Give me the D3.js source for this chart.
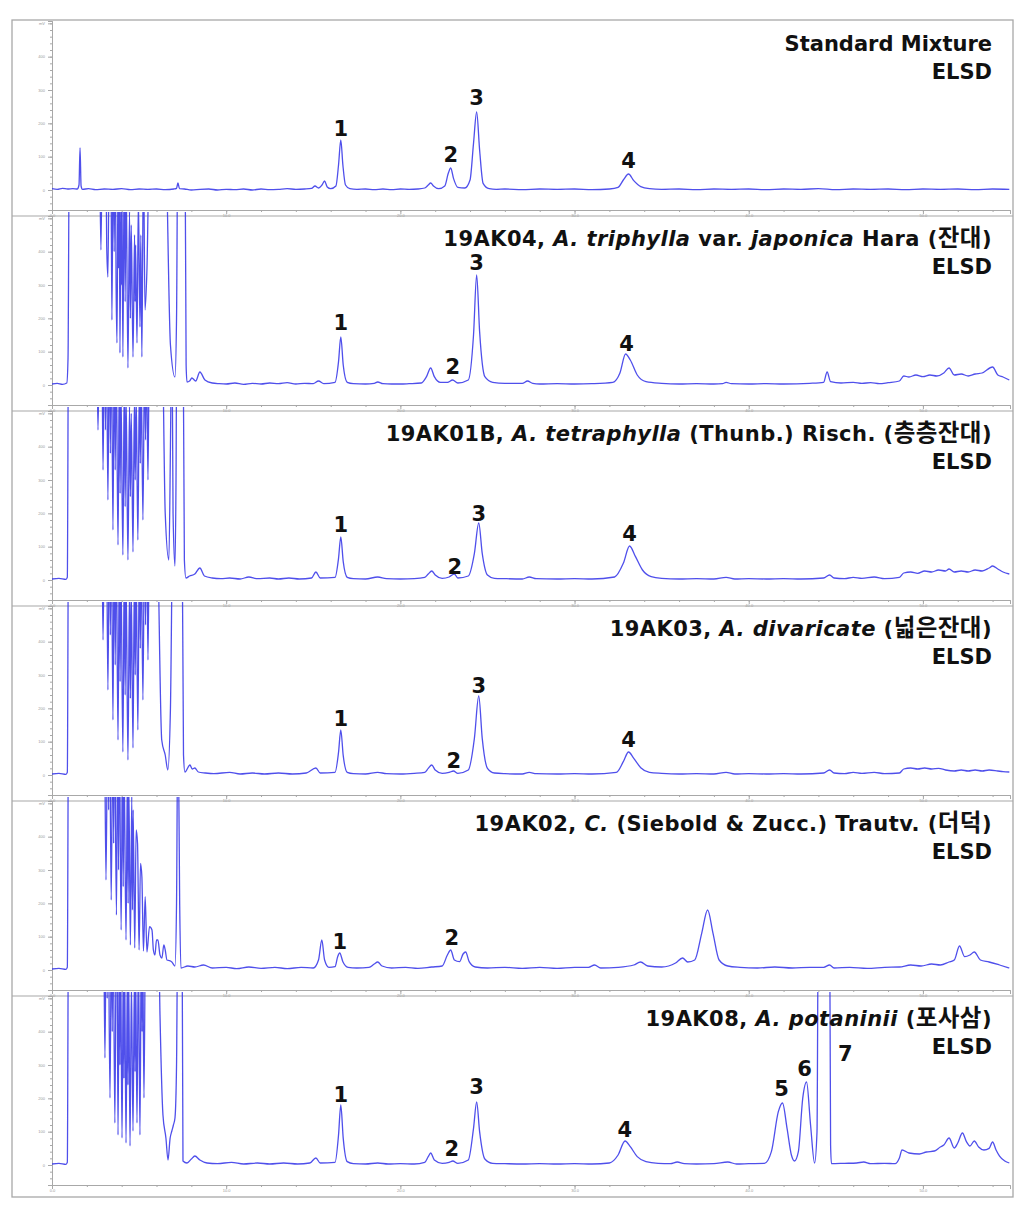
<!DOCTYPE html>
<html><head><meta charset="utf-8">
<script src="https://cdn.jsdelivr.net/npm/d3@7"></script>
<style>body{margin:0;background:#fff}</style>
</head><body>
<svg id="chart" width="1027" height="1209"></svg>
<script>
// ---------------- data ----------------
const timeMajorTicks = [0, 10, 20, 30, 40, 50];
const timeTickLabels = ["0.0", "10.0", "20.0", "30.0", "40.0", "50.0"];
const timeMinorTicks = [0,2,4,6,8,10,12,14,16,18,20,22,24,26,28,30,32,34,36,38,40,42,44,46,48,50,52,54];
const signalMajorTicks = [0, 100, 200, 300, 400, 500];
const signalTickLabels = ["0", "100", "200", "300", "400", "mV"];
const signalMinorTicks = [-40,-20,0,20,40,60,80,100,120,140,160,180,200,220,240,260,280,300,320,340,360,380,400,420,440,460,480,500];

// segment style: 0 = roman, 1 = italic, 2 = Korean
const titleLines = [
  [["Standard Mixture", 0]],
  [["19AK04, ", 0], ["A. triphylla", 1], [" var. ", 0], ["japonica", 1], [" Hara (", 0], ["잔대", 2], [")", 0]],
  [["19AK01B, ", 0], ["A. tetraphylla", 1], [" (Thunb.) Risch. (", 0], ["층층잔대", 2], [")", 0]],
  [["19AK03, ", 0], ["A. divaricate", 1], [" (", 0], ["넓은잔대", 2], [")", 0]],
  [["19AK02, ", 0], ["C.", 1], [" (Siebold & Zucc.) Trautv. (", 0], ["더덕", 2], [")", 0]],
  [["19AK08, ", 0], ["A. potaninii", 1], [" (", 0], ["포사삼", 2], [")", 0]]
];
const detectorLabel = "ELSD";

// [time (min), signal]
const traceStandard = [[0,4],[0.3,2],[0.6,5],[0.9,3],[1.2,4],[1.45,3],[1.55,15],[1.61,126],[1.67,12],[1.75,2],[2.1,4],[2.5,1],[3.0,3],[3.5,2],[4.0,4],[4.5,1],[5.0,3],[5.5,2],[6.0,3],[6.5,1],[7.0,3],[7.15,5],[7.23,21],[7.32,4],[7.6,3],[8.0,0],[8.5,2],[9,3],[9.5,0],[10,2],[10.5,1],[11,3],[11.5,0],[12,3],[12.5,1],[13,2],[13.5,4],[14,2],[14.5,3],[14.9,5],[15.1,12],[15.3,6],[15.5,15],[15.65,27],[15.8,9],[16.0,4],[16.3,12],[16.45,75],[16.58,150],[16.7,75],[16.85,15],[17.1,4],[17.5,2],[18,3],[18.5,1],[19,3],[19.5,1],[20,3],[20.5,2],[21,3],[21.4,6],[21.6,15],[21.74,21],[21.9,12],[22.2,4],[22.55,12],[22.75,50],[22.89,66],[23.05,35],[23.3,8],[23.7,6],[24.0,30],[24.2,140],[24.38,234],[24.55,120],[24.75,20],[25.1,4],[25.5,2],[26,3],[27,1],[28,3],[29,2],[30,3],[31,1],[32,3],[32.5,8],[32.8,30],[33.1,48],[33.4,28],[33.8,10],[34.3,4],[35,2],[36,3],[37,1],[38,3],[39,2],[40,3],[41,1],[42,3],[43,2],[44,4],[45,1],[46,3],[47,2],[48,3],[49,1],[50,3],[51,2],[52,3],[53,1],[54,3],[54.96,2]];

const trace19AK04 = [[0,3],[0.3,5],[0.6,2],[0.85,6],[0.92,80],[1.0,800],[2.70,800],[2.81,405],[2.90,800],[2.95,560],[3.0,800],[3.08,800],[3.14,420],[3.21,324],[3.30,800],[3.33,520],[3.37,800],[3.44,195],[3.52,800],[3.57,400],[3.62,800],[3.68,300],[3.73,126],[3.80,700],[3.83,350],[3.86,700],[3.90,96],[3.97,620],[3.99,300],[4.01,620],[4.07,84],[4.15,700],[4.2,250],[4.25,650],[4.36,51],[4.45,520],[4.5,200],[4.55,480],[4.65,84],[4.74,450],[4.77,250],[4.80,420],[4.88,126],[4.96,560],[5.05,174],[5.10,450],[5.16,84],[5.25,700],[5.34,225],[5.45,345],[5.62,800],[6.48,800],[6.8,120],[7.06,24],[7.15,200],[7.23,800],[7.63,800],[7.70,60],[7.75,9],[7.9,12],[8.03,21],[8.25,12],[8.49,39],[8.78,15],[9.2,6],[9.6,4],[10,3],[10.5,6],[11.0,2],[11.5,5],[12.0,3],[12.5,6],[13.0,4],[13.5,7],[14.0,3],[14.5,5],[15.0,4],[15.3,12],[15.6,4],[16.25,8],[16.45,70],[16.58,144],[16.72,60],[16.95,8],[17.3,4],[18,3],[18.5,5],[18.7,9],[19,4],[19.5,3],[20,3],[20.5,4],[21.2,6],[21.5,25],[21.74,51],[21.95,25],[22.3,8],[22.7,8],[23.0,15],[23.3,6],[23.9,15],[24.2,150],[24.38,330],[24.55,160],[24.85,25],[25.3,8],[26,5],[27.0,5],[27.3,12],[27.6,5],[28,3],[29,4],[30,3],[31,4],[32.2,8],[32.6,35],[32.93,93],[33.2,75],[33.6,30],[34.1,10],[35,5],[36,3],[37,4],[38,3],[38.5,4],[38.7,8],[39,4],[40,3],[41,4],[42,3],[43.5,5],[44.3,8],[44.5,39],[44.7,10],[45.3,6],[46,8],[46.5,5],[47,7],[47.5,4],[48,7],[48.65,12],[48.9,27],[49.2,24],[49.6,30],[50,25],[50.4,30],[50.8,27],[51.2,36],[51.5,51],[51.8,30],[52.2,33],[52.6,27],[53.0,33],[53.4,36],[54.0,54],[54.3,30],[54.6,24],[54.96,15]];

const trace19AK01B = [[0,3],[0.4,5],[0.8,2],[0.88,8],[0.95,800],[2.55,800],[2.64,450],[2.75,800],[2.80,520],[2.85,800],[2.93,330],[3.02,800],[3.07,450],[3.12,800],[3.21,240],[3.30,800],[3.35,380],[3.40,800],[3.50,150],[3.58,750],[3.63,330],[3.68,700],[3.79,105],[3.87,650],[3.91,260],[3.95,600],[4.07,75],[4.15,600],[4.2,220],[4.25,560],[4.36,60],[4.45,520],[4.5,250],[4.55,500],[4.65,84],[4.73,540],[4.78,300],[4.83,560],[4.93,120],[5.02,600],[5.07,350],[5.12,620],[5.22,180],[5.32,700],[5.37,420],[5.42,700],[5.51,300],[5.60,800],[6.30,800],[6.50,200],[6.71,60],[6.80,400],[6.88,800],[6.95,200],[7.06,42],[7.12,300],[7.17,800],[7.52,800],[7.60,60],[7.69,6],[7.9,12],[8.2,18],[8.49,36],[8.75,12],[9.2,6],[9.7,4],[10.2,6],[10.8,3],[11.3,9],[11.8,4],[12.5,6],[13.0,3],[13.6,6],[14.2,3],[14.9,6],[15.15,24],[15.4,6],[16.25,8],[16.45,65],[16.58,129],[16.72,55],[16.95,8],[17.3,4],[18,3],[18.7,9],[19.2,4],[20,3],[20.8,4],[21.4,8],[21.6,18],[21.8,27],[22.0,15],[22.4,5],[22.8,9],[23.1,18],[23.3,6],[23.9,12],[24.25,80],[24.5,171],[24.7,80],[25.0,15],[25.4,5],[26,4],[27,3],[27.4,9],[27.8,4],[29,3],[30,4],[31,3],[32.3,9],[32.8,50],[33.16,102],[33.5,70],[33.9,30],[34.4,10],[35,5],[36,3],[37,4],[38,3],[38.7,8],[39.2,3],[40,4],[41,3],[42,4],[43,3],[44.3,6],[44.64,15],[44.9,6],[45.5,4],[46,8],[46.5,5],[47.2,9],[47.8,4],[48.65,8],[48.9,21],[49.3,24],[49.7,20],[50.1,27],[50.5,24],[50.9,30],[51.3,27],[51.5,33],[51.8,24],[52.2,27],[52.6,24],[53.0,30],[53.4,27],[53.8,36],[54.0,42],[54.3,33],[54.6,24],[54.96,18]];

const trace19AK03 = [[0,3],[0.4,5],[0.8,2],[0.88,8],[0.95,800],[2.85,800],[2.93,405],[3.02,800],[3.07,520],[3.12,800],[3.21,255],[3.30,800],[3.35,420],[3.40,800],[3.50,165],[3.58,800],[3.63,330],[3.68,750],[3.79,105],[3.87,700],[3.91,280],[3.95,650],[4.07,69],[4.15,640],[4.2,240],[4.25,600],[4.36,45],[4.45,560],[4.5,230],[4.55,560],[4.65,81],[4.73,600],[4.78,300],[4.83,620],[4.93,135],[5.02,700],[5.07,380],[5.12,700],[5.22,225],[5.32,800],[5.37,450],[5.42,800],[5.51,345],[5.60,800],[6.0,800],[6.3,105],[6.5,60],[6.65,15],[6.8,200],[6.95,800],[7.46,800],[7.55,60],[7.63,9],[7.92,30],[8.05,18],[8.2,21],[8.4,9],[8.8,6],[9.3,4],[10.2,8],[10.8,3],[11.5,6],[12.2,3],[13.0,6],[13.8,3],[14.6,6],[15.15,21],[15.4,6],[16.25,8],[16.45,68],[16.58,135],[16.72,58],[16.95,8],[17.3,4],[18,3],[18.7,8],[19.2,4],[20,3],[20.8,5],[21.4,8],[21.6,20],[21.8,30],[22.0,15],[22.4,5],[22.8,8],[23.05,12],[23.3,5],[23.9,15],[24.25,110],[24.5,237],[24.7,110],[25.0,20],[25.4,6],[26,4],[27,3],[27.4,8],[27.8,4],[29,3],[30,4],[31,3],[32.4,8],[32.8,40],[33.1,69],[33.4,50],[33.8,22],[34.3,8],[35,5],[36,3],[37,4],[38,3],[38.7,8],[39.2,3],[40,4],[41,3],[42,4],[43,3],[44.3,6],[44.64,15],[44.9,6],[45.5,4],[46,8],[46.5,5],[47.2,8],[47.8,4],[48.65,6],[48.9,18],[49.3,21],[49.7,18],[50.1,21],[50.5,18],[50.9,20],[51.3,15],[51.8,12],[52.2,15],[52.6,12],[53.0,15],[53.4,12],[53.8,15],[54.3,12],[54.6,10],[54.96,9]];

const trace19AK02 = [[0,3],[0.4,5],[0.8,2],[0.88,8],[0.95,800],[3.00,800],[3.10,270],[3.20,800],[3.25,480],[3.30,800],[3.40,210],[3.50,800],[3.54,380],[3.58,800],[3.70,165],[3.78,800],[3.82,300],[3.86,750],[3.97,120],[4.05,700],[4.09,250],[4.13,650],[4.25,90],[4.33,600],[4.37,200],[4.41,560],[4.50,75],[4.58,520],[4.62,180],[4.66,480],[4.75,66],[4.83,420],[4.91,380],[5.00,60],[5.08,320],[5.16,280],[5.25,57],[5.35,220],[5.45,54],[5.6,130],[5.74,120],[5.82,60],[5.91,45],[6.0,90],[6.08,90],[6.2,45],[6.31,36],[6.42,75],[6.5,60],[6.6,30],[6.75,28],[6.88,24],[7.06,12],[7.15,200],[7.23,800],[7.33,200],[7.40,6],[7.8,12],[8.2,9],[8.7,15],[9.2,6],[10,8],[10.6,4],[11.3,9],[12,5],[12.8,8],[13.5,4],[14.3,8],[15.0,6],[15.3,30],[15.49,90],[15.65,30],[15.9,8],[16.25,10],[16.4,40],[16.52,51],[16.7,25],[17.0,8],[17.5,6],[18.2,8],[18.5,18],[18.7,24],[18.95,12],[19.5,6],[20.3,8],[21.0,5],[21.8,9],[22.4,12],[22.7,45],[22.89,60],[23.1,30],[23.4,25],[23.6,48],[23.75,54],[23.95,25],[24.3,9],[25,6],[26,8],[27,5],[28,8],[29,5],[30,8],[30.8,8],[31.15,15],[31.5,6],[32.5,8],[33.4,15],[33.79,24],[34.2,12],[35,9],[35.8,21],[36.2,36],[36.5,24],[36.9,30],[37.3,110],[37.64,180],[37.95,110],[38.3,30],[38.8,12],[39.5,8],[40.5,6],[41.5,9],[42.5,6],[43.5,8],[44.3,8],[44.64,15],[44.9,6],[45.8,8],[46.8,5],[47.8,8],[48.65,9],[49.3,15],[49.9,12],[50.5,18],[51.0,15],[51.5,24],[51.8,30],[52.1,72],[52.4,40],[52.7,45],[52.95,54],[53.3,30],[53.8,24],[54.4,15],[54.96,6]];

const trace19AK08 = [[0,3],[0.4,5],[0.8,2],[0.88,8],[0.95,800],[2.95,800],[3.04,321],[3.12,800],[3.17,500],[3.22,800],[3.33,201],[3.42,800],[3.46,400],[3.50,800],[3.61,126],[3.70,800],[3.72,800],[3.79,90],[3.87,700],[3.90,300],[3.93,700],[4.02,81],[4.10,650],[4.13,260],[4.16,650],[4.25,66],[4.33,600],[4.36,240],[4.40,580],[4.48,57],[4.56,550],[4.65,102],[4.73,560],[4.77,280],[4.80,600],[4.88,126],[4.96,650],[5.05,90],[5.13,700],[5.17,400],[5.20,700],[5.28,201],[5.38,800],[6.08,800],[6.2,450],[6.37,150],[6.54,81],[6.66,15],[6.78,80],[6.88,102],[6.97,120],[7.06,141],[7.15,300],[7.23,800],[7.46,800],[7.52,12],[7.75,6],[8.0,18],[8.2,27],[8.49,15],[8.9,6],[9.5,4],[10.3,8],[11,3],[11.8,6],[12.5,3],[13.3,6],[14.1,3],[14.8,6],[15.15,21],[15.4,6],[16.25,8],[16.45,90],[16.58,180],[16.72,80],[16.95,10],[17.3,4],[18,3],[18.7,6],[19.3,3],[20,4],[20.8,3],[21.4,8],[21.6,25],[21.74,36],[21.95,15],[22.4,5],[22.8,8],[23.01,12],[23.3,5],[23.9,15],[24.2,110],[24.38,189],[24.55,100],[24.85,18],[25.3,5],[26,4],[27,3],[28,4],[29,3],[30,4],[31,3],[32.0,6],[32.5,30],[32.9,72],[33.2,55],[33.6,25],[34.1,10],[34.8,5],[35.5,4],[35.9,9],[36.3,4],[37,3],[38,4],[38.8,9],[39.3,3],[40,4],[40.9,5],[41.3,40],[41.7,160],[41.94,186],[42.2,110],[42.45,30],[42.63,12],[42.85,40],[43.1,200],[43.32,249],[43.55,120],[43.78,6],[43.92,100],[44.0,800],[44.64,800],[44.70,60],[44.75,4],[45.5,5],[46.2,6],[46.6,9],[47.0,4],[47.8,5],[48.4,4],[48.65,21],[48.8,45],[49.2,36],[49.8,33],[50.2,39],[50.66,42],[51.0,54],[51.2,60],[51.5,81],[51.8,51],[52.0,66],[52.27,96],[52.5,70],[52.7,57],[52.95,72],[53.2,54],[53.5,45],[53.8,50],[54.0,69],[54.2,45],[54.4,27],[54.7,12],[54.96,6]];

// peak number labels: [label, time, signal position]
const peaksStandard = [["1",16.58,186],["2",22.89,108],["3",24.38,279],["4",33.1,90]];
const peaks19AK04 = [["1",16.58,189],["2",23.01,57],["3",24.38,369],["4",32.99,126]];
const peaks19AK01B = [["1",16.58,168],["2",23.12,42],["3",24.5,201],["4",33.16,141]];
const peaks19AK03 = [["1",16.58,171],["2",23.07,45],["3",24.5,270],["4",33.1,108]];
const peaks19AK02 = [["1",16.52,87],["2",22.95,99]];
const peaks19AK08 = [["1",16.58,213],["2",22.95,51],["3",24.38,237],["4",32.88,108],["5",41.88,231],["6",43.2,291],["7",45.55,336]];

const traces = [traceStandard, trace19AK04, trace19AK01B, trace19AK03, trace19AK02, trace19AK08];
const peakLabels = [peaksStandard, peaks19AK04, peaks19AK01B, peaks19AK03, peaks19AK02, peaks19AK08];

// ---------------- layout ----------------
const svg = d3.select("#chart");
const frameL = 12, frameR = 1013, frameT = 20, frameB = 1197;
const plotL = 52, plotR = 1010;
const step = 195, top0 = 21, axis0 = 210;
const grey = "#a8a8a8";
const lineColor = "#3030e8";
const fontMain = "'DejaVu Sans', 'Noto Sans CJK KR', sans-serif";
const fontKorean = "'Noto Sans CJK KR', sans-serif";
const fontSmall = "'Liberation Sans', Arial, sans-serif";

svg.append("rect").attr("x", frameL).attr("y", frameT).attr("width", frameR - frameL).attr("height", frameB - frameT)
  .attr("fill", "#fff").attr("stroke", grey).attr("stroke-width", 1.3);

const x = d3.scaleLinear().domain([0, 55]).range([plotL, plotR]);

traces.forEach((trace, i) => {
  const top = top0 + step * i, axisY = axis0 + step * i;
  const y = d3.scaleLinear().domain([-60, 507]).range([axisY, top]);
  const g = svg.append("g");

  if (i > 0) {
    g.append("line").attr("x1", frameL).attr("x2", frameR).attr("y1", top).attr("y2", top)
      .attr("stroke", grey).attr("stroke-width", 1.2);
  }

  // x axis (minor + major)
  const xMinor = d3.axisBottom(x).tickValues(timeMinorTicks).tickSize(2).tickFormat("");
  const xMajor = d3.axisBottom(x).tickValues(timeMajorTicks).tickSize(4)
    .tickFormat((d, k) => timeTickLabels[k]);
  const gxm = g.append("g").attr("transform", `translate(0,${axisY})`).call(xMinor);
  const gx = g.append("g").attr("transform", `translate(0,${axisY})`).call(xMajor);
  [gxm, gx].forEach(a => {
    a.select(".domain").attr("stroke", grey);
    a.selectAll(".tick line").attr("stroke", grey);
  });
  gx.selectAll(".tick text").attr("font-size", 4).attr("fill", "#999").attr("dy", "-0.1em").attr("font-family", fontSmall);

  // y axis
  const yMinor = d3.axisLeft(y).tickValues(signalMinorTicks).tickSize(2).tickFormat("");
  const yMajor = d3.axisLeft(y).tickValues(signalMajorTicks).tickSize(4)
    .tickFormat((d, k) => signalTickLabels[k]);
  const gym = g.append("g").attr("transform", `translate(${plotL},0)`).call(yMinor);
  const gy = g.append("g").attr("transform", `translate(${plotL},0)`).call(yMajor);
  [gym, gy].forEach(a => {
    a.select(".domain").attr("stroke", grey);
    a.selectAll(".tick line").attr("stroke", grey);
  });
  gy.selectAll(".tick text").attr("font-size", 4).attr("fill", "#999").attr("font-family", fontSmall);

  // clip
  const cid = "clip" + i;
  svg.append("clipPath").attr("id", cid).append("rect")
    .attr("x", plotL).attr("y", top - 4).attr("width", plotR - plotL).attr("height", axisY - top + 4);

  const line = d3.line().x(d => x(d[0])).y(d => y(d[1])).curve(d3.curveMonotoneX);
  g.append("path").datum(trace).attr("clip-path", `url(#${cid})`)
    .attr("d", line).attr("fill", "none").attr("stroke", lineColor)
    .attr("stroke-width", 1.3).attr("stroke-linejoin", "round").attr("opacity", 0.85);

  // titles
  const t1 = g.append("text").attr("x", 992).attr("y", top + 30).attr("text-anchor", "end")
    .attr("font-family", fontMain).attr("font-weight", "bold").attr("font-size", 21).attr("fill", "#111")
    .attr("letter-spacing", i === 0 ? 0 : 0.45);
  titleLines[i].forEach(seg => {
    const ts = t1.append("tspan").text(seg[0]).attr("font-style", seg[1] === 1 ? "italic" : "normal");
    if (seg[1] === 2) ts.attr("font-family", fontKorean).attr("font-size", 23.5);
  });
  g.append("text").attr("x", 992).attr("y", top + 58).attr("text-anchor", "end")
    .attr("font-family", fontMain).attr("font-weight", "bold").attr("font-size", 21).attr("fill", "#111")
    .text(detectorLabel);

  // peak labels
  g.selectAll("text.peak").data(peakLabels[i]).enter().append("text").attr("class", "peak")
    .attr("x", d => x(d[1])).attr("y", d => y(d[2])).attr("dy", "0.36em")
    .attr("text-anchor", "middle").attr("font-family", fontMain).attr("font-weight", "bold")
    .attr("font-size", 21).attr("fill", "#111").text(d => d[0]);
});
</script>
</body></html>
